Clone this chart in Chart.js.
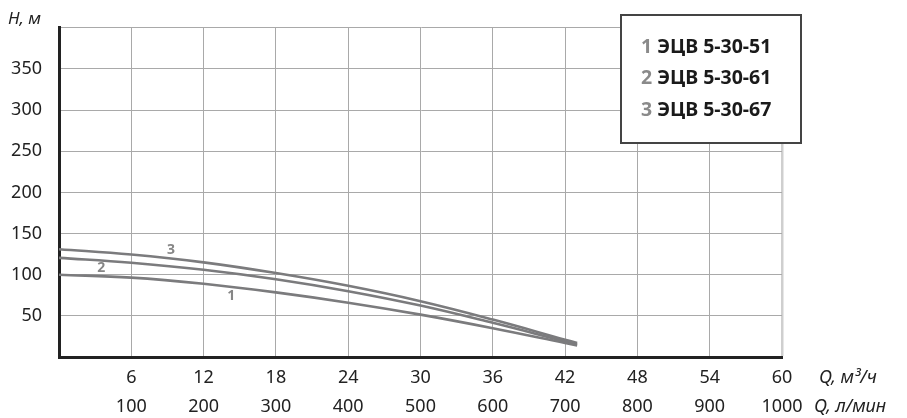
<!DOCTYPE html>
<html>
<head>
<meta charset="utf-8">
<script src="https://cdn.jsdelivr.net/npm/chart.js@4/dist/chart.umd.min.js"></script>
<style>
  body { margin: 0; background: #fff; }
  .wrap { width: 907px; height: 418px; position: relative; }
</style>
</head>
<body>
<div class="wrap"><canvas id="chart"></canvas></div>
<script>
// flow, m3/h
const flow = [0, 6, 12, 18, 24, 30, 36, 42, 43];
// head, m
const head1 = [100, 96.5, 89, 78.5, 66, 51.5, 35, 17, 14];
const head2 = [120.5, 114.5, 106, 94.5, 80, 62.5, 41.5, 19, 15.5];
const head3 = [131, 124.5, 115, 102, 86.5, 67.8, 45.5, 21, 17];

const qM3Ticks = [6, 12, 18, 24, 30, 36, 42, 48, 54, 60];
const qLpmTicks = [100, 200, 300, 400, 500, 600, 700, 800, 900, 1000];

const legendNames = ['ЭЦВ 5-30-51', 'ЭЦВ 5-30-61', 'ЭЦВ 5-30-67'];
// curve number labels, placed in data units [Q, H]
const curveLabels = [['1', 14.3, 74], ['2', 3.5, 108], ['3', 9.3, 130]];

const FONT = '"Noto Sans", sans-serif';
const lineColor = '#7b7b7d';

function toPoints(ys) {
  return flow.map((q, i) => ({ x: q, y: ys[i] }));
}

const extras = {
  id: 'extras',
  afterDraw(chart) {
    const ctx = chart.ctx;
    const x = chart.scales.x;
    const y = chart.scales.y;
    ctx.save();

    // curve numbers
    ctx.fillStyle = '#868686';
    ctx.font = 'bold 14px ' + FONT;
    ctx.textAlign = 'center';
    ctx.textBaseline = 'middle';
    curveLabels.forEach(([t, q, h]) => {
      ctx.fillText(t, x.getPixelForValue(q), y.getPixelForValue(h));
    });

    // axis captions
    ctx.fillStyle = '#222';
    ctx.textAlign = 'left';
    ctx.font = 'italic 17px ' + FONT;
    ctx.fillText('H, м', 8, 19);
    ctx.font = 'italic 18px ' + FONT;
    ctx.fillText('Q, м³/ч', 819, 378);
    ctx.fillText('Q, л/мин', 814, 407);

    // legend box
    ctx.fillStyle = '#fff';
    ctx.fillRect(621, 15, 180, 128);
    ctx.strokeStyle = '#444';
    ctx.lineWidth = 2;
    ctx.strokeRect(621, 15, 180, 128);
    ctx.font = 'bold 19.5px ' + FONT;
    legendNames.forEach((name, i) => {
      const ty = 47 + i * 31.5;
      const num = String(i + 1) + ' ';
      ctx.fillStyle = '#8a8a8a';
      ctx.fillText(num, 641, ty);
      ctx.fillStyle = '#1a1a1a';
      ctx.fillText(name, 641 + ctx.measureText(num).width, ty);
    });
    ctx.restore();
  }
};

new Chart(document.getElementById('chart'), {
  type: 'line',
  data: {
    datasets: [
      { data: toPoints(head1) },
      { data: toPoints(head2) },
      { data: toPoints(head3) }
    ].map(d => Object.assign(d, {
      borderColor: lineColor,
      borderWidth: 2.6,
      pointRadius: 0,
      fill: false,
      tension: 0.4
    }))
  },
  options: {
    responsive: true,
    maintainAspectRatio: false,
    animation: false,
    layout: { padding: { top: 25, right: 125, left: 0, bottom: 0 } },
    plugins: {
      legend: { display: false },
      tooltip: { enabled: false }
    },
    scales: {
      x: {
        type: 'linear',
        min: 0,
        max: 60,
        afterFit: s => { s.height = 61; },
        afterBuildTicks: s => { s.ticks = [0].concat(qM3Ticks).map(v => ({ value: v })); },
        border: { color: '#222', width: 3 },
        grid: {
          drawTicks: false,
          color: c => c.tick && c.tick.value === 60 ? '#cfcfcf' : '#a9a9a9',
          lineWidth: c => c.tick && c.tick.value === 60 ? 2.5 : 1
        },
        ticks: {
          autoSkip: false,
          maxRotation: 0,
          padding: 6,
          color: '#222',
          font: { family: FONT, size: 18, lineHeight: 1.64 },
          callback: v => {
            const i = qM3Ticks.indexOf(v);
            return i < 0 ? '' : [String(qM3Ticks[i]), String(qLpmTicks[i])];
          }
        }
      },
      y: {
        min: 0,
        max: 400,
        afterFit: s => { s.width = 59; },
        border: { color: '#222', width: 3 },
        grid: { drawTicks: false, color: '#a9a9a9', lineWidth: 1 },
        ticks: {
          stepSize: 50,
          padding: 17,
          color: '#222',
          font: { family: FONT, size: 18 },
          callback: v => (v === 0 || v === 400) ? '' : String(v)
        }
      }
    }
  },
  plugins: [extras]
});
</script>
</body>
</html>
